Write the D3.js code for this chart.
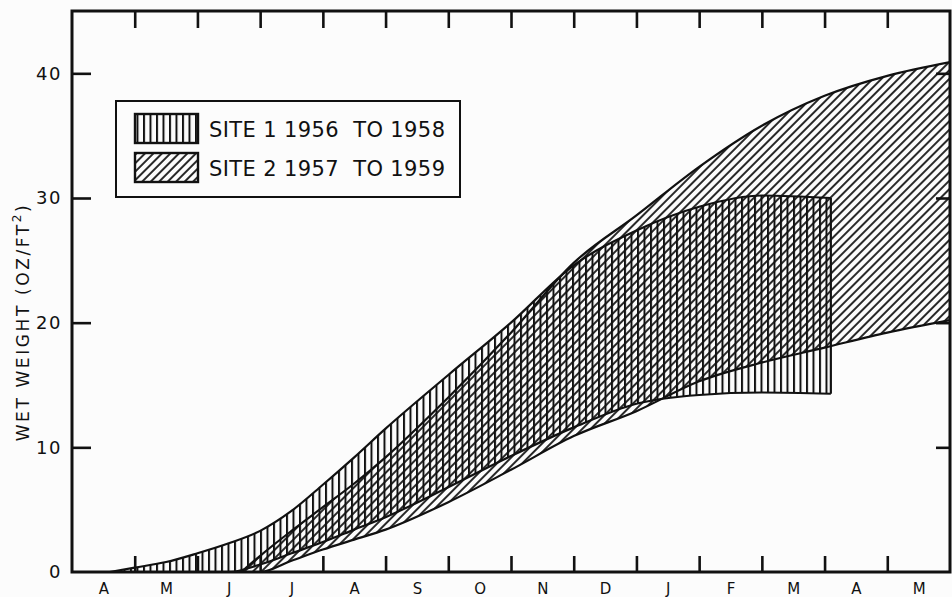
<!DOCTYPE html>
<html>
  <head>
    <meta charset="utf-8" />
    <title>wet weight</title>
    <script src="https://d3js.org/d3.v7.min.js"></script>
    <style>
      body { margin: 0; background: #fcfcfc; }
      svg { display: block; font-family: "DejaVu Sans", sans-serif; }
    </style>
  </head>
  <body>
    <div id="chart"></div>
    <script>
      // month labels, April to May of the next year
      var months = ["A", "M", "J", "J", "A", "S", "O", "N", "D", "J", "F", "M", "A", "M"];
      var yTicks = [0, 10, 20, 30, 40];

      // x = months since 1 April
      var site1Month = [0.6, 1.0, 1.5, 2.0, 2.5, 3.0, 3.5, 4.0, 4.5, 5.0, 6.0, 7.0, 8.0, 9.0, 10.0, 11.0, 12.1];
      var site1Upper = [0, 0.35, 0.8, 1.5, 2.3, 3.3, 4.9, 7.0, 9.2, 11.5, 15.8, 20.0, 24.6, 27.4, 29.3, 30.2, 30.0];
      var site1Lower = [0, 0, 0, 0, 0, 0.6, 1.5, 2.4, 3.4, 4.4, 6.8, 9.3, 11.6, 13.5, 14.2, 14.4, 14.3];

      var site2Month = [2.7, 3.0, 3.5, 4.0, 4.5, 5.0, 6.0, 7.0, 8.0, 9.0, 10.0, 11.0, 12.0, 13.0, 14.0];
      var site2Upper = [0, 1.3, 3.3, 5.2, 7.1, 9.2, 14.0, 19.2, 24.8, 28.6, 32.5, 35.8, 38.2, 39.8, 40.9];
      var site2Lower = [0, 0, 0.9, 1.8, 2.6, 3.4, 5.6, 8.2, 10.9, 12.9, 15.3, 16.8, 18.0, 19.2, 20.2];

      var legendLabels = ["SITE 1 1956  TO 1958", "SITE 2 1957  TO 1959"];

      var width = 952, height = 597;
      var plotL = 72, plotR = 950, plotT = 11, plotB = 572;

      var svg = d3.select("#chart").append("svg")
        .attr("width", width)
        .attr("height", height);

      var x = d3.scaleLinear().domain([0, 14]).range([plotL, plotR]);
      var y = d3.scaleLinear().domain([0, 45]).range([plotB, plotT]);

      var defs = svg.append("defs");
      defs.append("clipPath").attr("id", "plot")
        .append("rect").attr("x", plotL).attr("y", plotT)
        .attr("width", plotR - plotL).attr("height", plotB - plotT);

      // vertical hatch
      var pv = defs.append("pattern").attr("id", "vert")
        .attr("patternUnits", "userSpaceOnUse")
        .attr("width", 6.5).attr("height", 10);
      pv.append("line").attr("x1", 1).attr("x2", 1).attr("y1", 0).attr("y2", 10)
        .attr("stroke", "#111").attr("stroke-width", 2);

      // diagonal hatch
      var pd = defs.append("pattern").attr("id", "diag")
        .attr("patternUnits", "userSpaceOnUse")
        .attr("width", 6).attr("height", 10)
        .attr("patternTransform", "rotate(45)");
      pd.append("line").attr("x1", 1).attr("x2", 1).attr("y1", 0).attr("y2", 10)
        .attr("stroke", "#111").attr("stroke-width", 1.8);

      function rows(m, up, lo) {
        return m.map(function (d, i) { return { m: d, up: up[i], lo: lo[i] }; });
      }
      var s1 = rows(site1Month, site1Upper, site1Lower);
      var s2 = rows(site2Month, site2Upper, site2Lower);

      var area = d3.area().curve(d3.curveMonotoneX)
        .x(function (d) { return x(d.m); })
        .y0(function (d) { return y(d.lo); })
        .y1(function (d) { return y(d.up); });
      var lineUp = d3.line().curve(d3.curveMonotoneX)
        .x(function (d) { return x(d.m); })
        .y(function (d) { return y(d.up); });
      var lineLo = d3.line().curve(d3.curveMonotoneX)
        .x(function (d) { return x(d.m); })
        .y(function (d) { return y(d.lo); });

      var g = svg.append("g").attr("clip-path", "url(#plot)");

      g.append("path").datum(s2).attr("d", area).attr("fill", "url(#diag)");
      g.append("path").datum(s1).attr("d", area).attr("fill", "url(#vert)");

      [s1, s2].forEach(function (s) {
        g.append("path").datum(s).attr("d", lineUp)
          .attr("fill", "none").attr("stroke", "#111").attr("stroke-width", 2.2);
        g.append("path").datum(s).attr("d", lineLo)
          .attr("fill", "none").attr("stroke", "#111").attr("stroke-width", 2.2);
      });
      // closing edge at the end of site 1
      var last = s1[s1.length - 1];
      g.append("line")
        .attr("x1", x(last.m)).attr("x2", x(last.m))
        .attr("y1", y(last.lo)).attr("y2", y(last.up))
        .attr("stroke", "#111").attr("stroke-width", 2.2);

      // ticks on all four sides
      var monthEdges = d3.range(1, 14);
      function tickStyle(sel) {
        sel.select(".domain").remove();
        sel.selectAll("line").attr("stroke", "#111").attr("stroke-width", 2.6);
      }
      svg.append("g").attr("transform", "translate(0," + plotB + ")")
        .call(d3.axisBottom(x).tickValues(monthEdges).tickSize(-16).tickFormat(""))
        .call(tickStyle);
      svg.append("g").attr("transform", "translate(0," + plotT + ")")
        .call(d3.axisTop(x).tickValues(monthEdges).tickSize(-17).tickFormat(""))
        .call(tickStyle);
      svg.append("g").attr("transform", "translate(" + plotL + ",0)")
        .call(d3.axisLeft(y).tickValues(yTicks.slice(1)).tickSize(-19).tickFormat(""))
        .call(tickStyle);
      svg.append("g").attr("transform", "translate(" + plotR + ",0)")
        .call(d3.axisRight(y).tickValues(yTicks.slice(1)).tickSize(-14).tickFormat(""))
        .call(tickStyle);

      // labels
      var yLab = svg.append("g").attr("transform", "translate(" + plotL + ",0)")
        .call(d3.axisLeft(y).tickValues(yTicks).tickSize(0).tickPadding(10));
      yLab.select(".domain").remove();
      yLab.selectAll("text").attr("font-size", 18).attr("letter-spacing", 1.5)
        .attr("fill", "#111").attr("font-family", "DejaVu Sans");

      var xLab = svg.append("g").attr("transform", "translate(0," + plotB + ")")
        .call(d3.axisBottom(x).tickValues(months.map(function (d, i) { return i + 0.5; }))
          .tickSize(0).tickPadding(11)
          .tickFormat(function (d, i) { return months[i]; }));
      xLab.select(".domain").remove();
      xLab.selectAll("text").attr("font-size", 15).attr("fill", "#111")
        .attr("font-family", "DejaVu Sans");

      // frame
      svg.append("rect").attr("x", plotL).attr("y", plotT)
        .attr("width", plotR - plotL).attr("height", plotB - plotT)
        .attr("fill", "none").attr("stroke", "#111").attr("stroke-width", 3);

      // y axis title
      var yt = svg.append("text")
        .attr("transform", "translate(29,322) rotate(-90)")
        .attr("text-anchor", "middle")
        .attr("font-size", 17).attr("letter-spacing", 2.6)
        .attr("fill", "#111");
      yt.append("tspan").text("WET WEIGHT (OZ/FT");
      yt.append("tspan").attr("dy", -8).attr("font-size", 12).text("2");
      yt.append("tspan").attr("dy", 8).text(")");

      // legend
      var lg = svg.append("g");
      lg.append("rect").attr("x", 116).attr("y", 101).attr("width", 344).attr("height", 96)
        .attr("fill", "#fcfcfc").attr("stroke", "#111").attr("stroke-width", 2);
      var fills = ["url(#vert)", "url(#diag)"];
      legendLabels.forEach(function (t, i) {
        var yy = 114 + i * 39;
        lg.append("rect").attr("x", 135).attr("y", yy).attr("width", 63).attr("height", 29)
          .attr("fill", fills[i]).attr("stroke", "#111").attr("stroke-width", 2.4);
        lg.append("text").attr("x", 209).attr("y", yy + 23)
          .attr("font-size", 21).attr("fill", "#111")
          .attr("textLength", 236).attr("lengthAdjust", "spacing")
          .style("white-space", "pre")
          .text(t);
      });
    </script>
  </body>
</html>
